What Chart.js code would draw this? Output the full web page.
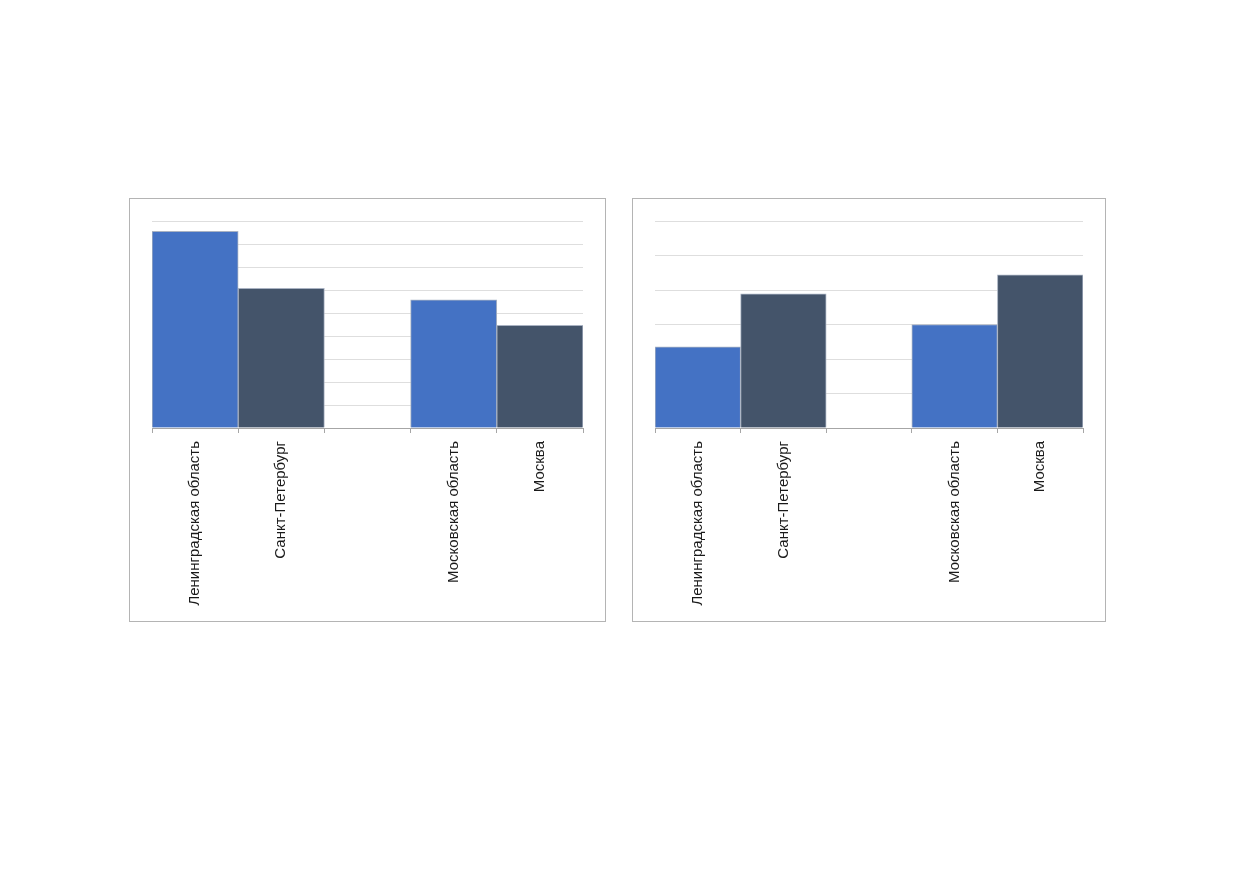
<!DOCTYPE html>
<html>
<head>
<meta charset="utf-8">
<script src="https://cdn.jsdelivr.net/npm/chart.js@4"></script>
<style>
  body { margin: 0; background: #fff; }
  .box { position: absolute; top: 198px; height: 422px; border: 1px solid #b4b4b4; background: #fff; }
  #boxLeft { left: 129px; width: 475px; }
  #boxRight { left: 632px; width: 472px; }
</style>
</head>
<body>
<div class="box" id="boxLeft"><canvas id="chartLeft"></canvas></div>
<div class="box" id="boxRight"><canvas id="chartRight"></canvas></div>
<script>
// Категории (третья — пустой промежуток между группами)
const categories = ['Ленинградская область', 'Санкт-Петербург', '', 'Московская область', 'Москва'];
const leftValues = [8.55, 6.07, null, 5.57, 4.46];
const rightValues = [2.35, 3.89, null, 3.0, 4.44];
const leftMax = 9;
const rightMax = 6;
const barColors = ['#4472c4', '#44546a', '#ffffff', '#4472c4', '#44546a'];

function makeChart(id, values, maxY) {
    const ctx = document.getElementById(id).getContext('2d');
    return new Chart(ctx, {
        type: 'bar',
        data: {
            labels: categories,
            datasets: [{
                data: values,
                backgroundColor: barColors,
                borderColor: '#a9b2c2',
                borderWidth: 1,
                categoryPercentage: 1,
                barPercentage: 1
            }]
        },
        options: {
            responsive: true,
            maintainAspectRatio: false,
            animation: false,
            layout: { padding: { left: 22, right: 22, top: 22, bottom: 0 } },
            plugins: { legend: { display: false }, tooltip: { enabled: false } },
            scales: {
                x: {
                    grid: { drawOnChartArea: false, drawTicks: true, tickLength: 5, color: '#a6a6a6' },
                    border: { color: '#a6a6a6' },
                    ticks: {
                        minRotation: 90, maxRotation: 90,
                        color: '#1a1a1a',
                        padding: 8,
                        font: { family: 'Liberation Sans, Arial, sans-serif', size: 15 }
                    },
                    afterFit: (scale) => { scale.height = 193; }
                },
                y: {
                    min: 0, max: maxY,
                    ticks: { display: false, stepSize: 1 },
                    grid: { color: '#dedede', drawTicks: false },
                    border: { display: false },
                    afterFit: (scale) => { scale.width = 0; }
                }
            }
        }
    });
}

makeChart('chartLeft', leftValues, leftMax);
makeChart('chartRight', rightValues, rightMax);
</script>
</body>
</html>
